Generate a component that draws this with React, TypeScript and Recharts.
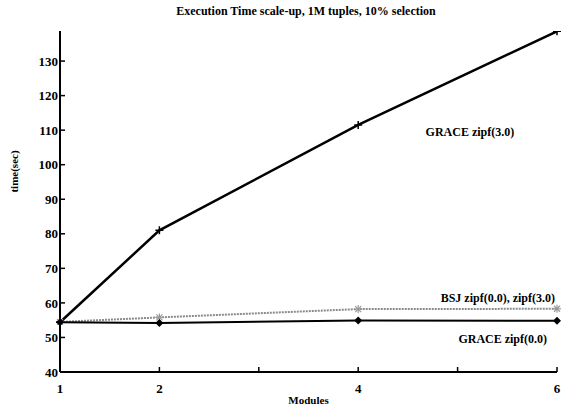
import { Line, LineChart, XAxis, YAxis, ReferenceDot } from "recharts"

const modules = [1, 2, 4, 6]
const grace3 = [54.4, 81, 111.5, 138.6]
const bsj = [54.5, 55.8, 58.2, 58.3]
const grace0 = [54.4, 54.2, 54.9, 54.8]

const xTicks = [1, 2, 3, 4, 5, 6]
const xLabels = [1, 2, 4, 6]
const yTicks = [40, 50, 60, 70, 80, 90, 100, 110, 120, 130]

const data = modules.map((m, i) => ({
  module: m,
  grace3: grace3[i],
  bsj: bsj[i],
  grace0: grace0[i],
}))

const font = "'Liberation Serif', 'Times New Roman', serif"

const PlusDot = (props: any) => {
  const { cx, cy } = props
  if (cx == null || cy == null) return null
  return (
    <g stroke="#000" strokeWidth={1.5}>
      <line x1={cx - 4} y1={cy} x2={cx + 4} y2={cy} />
      <line x1={cx} y1={cy - 4} x2={cx} y2={cy + 4} />
    </g>
  )
}

const StarDot = (props: any) => {
  const { cx, cy } = props
  if (cx == null || cy == null) return null
  return (
    <g stroke="#999" strokeWidth={1.2}>
      <line x1={cx - 4} y1={cy} x2={cx + 4} y2={cy} />
      <line x1={cx} y1={cy - 4} x2={cx} y2={cy + 4} />
      <line x1={cx - 3} y1={cy - 3} x2={cx + 3} y2={cy + 3} />
      <line x1={cx - 3} y1={cy + 3} x2={cx + 3} y2={cy - 3} />
    </g>
  )
}

const DiamondDot = (props: any) => {
  const { cx, cy } = props
  if (cx == null || cy == null) return null
  return <polygon points={`${cx},${cy - 4} ${cx + 4},${cy} ${cx},${cy + 4} ${cx - 4},${cy}`} fill="#000" />
}

const tickStyle = { fill: "#000", fontSize: 13, fontWeight: 700, fontFamily: font }
const labelStyle = { fill: "#000", fontSize: 12, fontWeight: 700, fontFamily: font }

export default function App() {
  return (
    <div style={{ position: "absolute", left: 0, top: 0, width: 563, height: 407, background: "#fff" }}>
      <div
        style={{
          position: "absolute",
          left: 0,
          top: 4,
          width: 612,
          textAlign: "center",
          fontFamily: font,
          fontWeight: 700,
          fontSize: 12,
        }}
      >
        Execution Time scale-up, 1M tuples, 10% selection
      </div>
      <LineChart width={563} height={407} data={data} margin={{ top: 31, right: 6, bottom: 0, left: 0 }}>
        <XAxis
          xAxisId="b"
          dataKey="module"
          type="number"
          domain={[1, 6]}
          ticks={xTicks}
          tickFormatter={(v: number) => (xLabels.includes(v) ? String(v) : "")}
          tickSize={-5}
          tickMargin={17}
          height={35}
          axisLine={{ stroke: "#000", strokeWidth: 2 }}
          tickLine={{ stroke: "#000", strokeWidth: 1.5 }}
          tick={tickStyle}
          label={{ value: "Modules", position: "insideBottom", offset: 3, style: { ...labelStyle, fontSize: 11 } }}
        />
        <XAxis
          xAxisId="t"
          orientation="top"
          dataKey="module"
          type="number"
          domain={[1, 6]}
          ticks={xTicks}
          tickFormatter={() => ""}
          tickSize={-5}
          height={0}
          axisLine={{ stroke: "#000", strokeWidth: 2 }}
          tickLine={{ stroke: "#000", strokeWidth: 1.5 }}
        />
        <YAxis
          yAxisId="l"
          type="number"
          domain={[40, 138.7]}
          ticks={yTicks}
          tickSize={-5}
          tickMargin={7}
          width={60}
          axisLine={{ stroke: "#000", strokeWidth: 2 }}
          tickLine={{ stroke: "#000", strokeWidth: 1.5 }}
          tick={tickStyle}
          allowDataOverflow
          label={{
            value: "time(sec)",
            angle: -90,
            position: "insideLeft",
            offset: 14,
            dy: -30,
            style: { ...labelStyle, fontSize: 11, textAnchor: "middle" },
          }}
        />
        <YAxis
          yAxisId="r"
          orientation="right"
          type="number"
          domain={[40, 138.7]}
          ticks={yTicks}
          tickFormatter={() => ""}
          tickSize={-5}
          width={0}
          axisLine={{ stroke: "#000", strokeWidth: 2 }}
          tickLine={{ stroke: "#000", strokeWidth: 1.5 }}
          allowDataOverflow
        />
        <Line
          xAxisId="b"
          yAxisId="l"
          dataKey="bsj"
          stroke="#8a8a8a"
          strokeWidth={2}
          strokeDasharray="2 1"
          dot={<StarDot />}
          isAnimationActive={false}
        />
        <Line
          xAxisId="b"
          yAxisId="l"
          dataKey="grace0"
          stroke="#000"
          strokeWidth={2}
          dot={<DiamondDot />}
          isAnimationActive={false}
        />
        <Line
          xAxisId="b"
          yAxisId="l"
          dataKey="grace3"
          stroke="#000"
          strokeWidth={2.5}
          dot={<PlusDot />}
          isAnimationActive={false}
        />
        <ReferenceDot
          xAxisId="b"
          yAxisId="l"
          x={5.57}
          y={109.4}
          r={0}
          label={{ value: "GRACE  zipf(3.0)", position: "left", offset: 0, style: labelStyle }}
        />
        <ReferenceDot
          xAxisId="b"
          yAxisId="l"
          x={5.98}
          y={61.4}
          r={0}
          label={{ value: "BSJ  zipf(0.0), zipf(3.0)", position: "left", offset: 0, style: labelStyle }}
        />
        <ReferenceDot
          xAxisId="b"
          yAxisId="l"
          x={5.9}
          y={49.6}
          r={0}
          label={{ value: "GRACE  zipf(0.0)", position: "left", offset: 0, style: labelStyle }}
        />
      </LineChart>
    </div>
  )
}
